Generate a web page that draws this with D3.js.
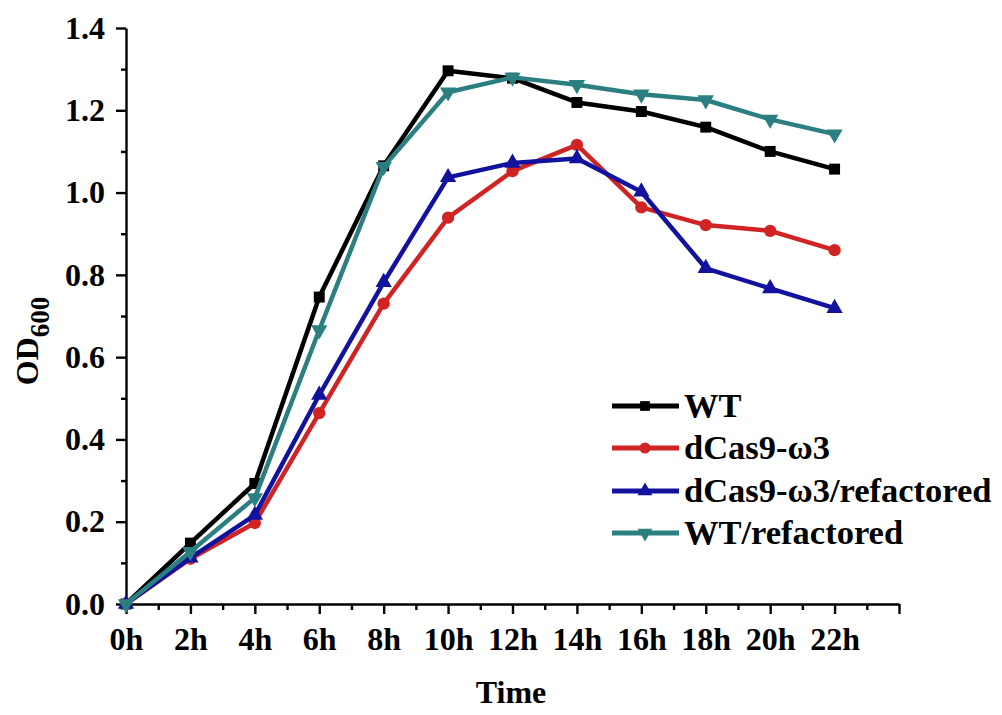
<!DOCTYPE html>
<html><head><meta charset="utf-8">
<script src="https://cdn.jsdelivr.net/npm/d3@7"></script>
<style>
body{margin:0;background:#fff;}
svg{display:block;font-family:"Liberation Serif","Times New Roman",serif;font-weight:bold;}
</style></head>
<body><svg id="chart" width="1002" height="715"></svg>
<script>
const hours = [0,2,4,6,8,10,12,14,16,18,20,22];
const wt =        [0, 0.148, 0.293, 0.746, 1.065, 1.296, 1.278, 1.219, 1.197, 1.159, 1.100, 1.057];
const dcas =      [0, 0.110, 0.197, 0.464, 0.730, 0.939, 1.052, 1.116, 0.964, 0.921, 0.907, 0.860];
const dcasRef =   [0, 0.112, 0.216, 0.508, 0.782, 1.037, 1.072, 1.083, 1.002, 0.816, 0.767, 0.719];
const wtRef =     [0, 0.127, 0.258, 0.666, 1.063, 1.244, 1.280, 1.262, 1.239, 1.225, 1.178, 1.142];
const seriesNames = ["WT","dCas9-ω3","dCas9-ω3/refactored","WT/refactored"];
const seriesColors = ["#000000","#d02424","#12129e","#2b7f80"];
const seriesMarkers = ["square","circle","triangle","triangleDown"];
const xMajorTicks = [0,2,4,6,8,10,12,14,16,18,20,22,24];
const xMinorTicks = [1,3,5,7,9,11,13,15,17,19,21,23];
const yMajorTicks = [0,0.2,0.4,0.6,0.8,1.0,1.2,1.4];
const yMinorTicks = [0.1,0.3,0.5,0.7,0.9,1.1,1.3];

const allSeries = [wt, dcas, dcasRef, wtRef];
const svg = d3.select("#chart");
const x = d3.scaleLinear().domain([0,24]).range([126,899]);
const y = d3.scaleLinear().domain([0,1.4]).range([604,28]);

// axes
svg.append("g").attr("transform","translate(0,604)")
  .call(d3.axisBottom(x).tickValues(xMajorTicks).tickSize(10).tickSizeOuter(0).tickPadding(13)
    .tickFormat(d => d <= 22 ? d + "h" : ""));
svg.append("g").attr("transform","translate(0,604)")
  .call(d3.axisBottom(x).tickValues(xMinorTicks).tickSize(6).tickSizeOuter(0).tickFormat(""))
  .select(".domain").remove();
svg.append("g").attr("transform","translate(126,0)")
  .call(d3.axisLeft(y).tickValues(yMajorTicks).tickSize(10).tickSizeOuter(0).tickPadding(11)
    .tickFormat(d3.format(".1f")));
svg.append("g").attr("transform","translate(126,0)")
  .call(d3.axisLeft(y).tickValues(yMinorTicks).tickSize(5).tickSizeOuter(0).tickFormat(""))
  .select(".domain").remove();
svg.selectAll(".domain").attr("stroke","#000").attr("stroke-width",2.4);
svg.selectAll(".tick line").attr("stroke","#000").attr("stroke-width",2.4);
svg.selectAll(".tick text").attr("fill","#000").style("font-size","32px")
  .style("font-family","'Liberation Serif','Times New Roman',serif").style("font-weight","bold");

// axis titles
svg.append("text").attr("x",511).attr("y",703).attr("text-anchor","middle")
  .style("font-size","32px").text("Time");
const yt = svg.append("text").attr("transform","translate(38,341) rotate(-90)")
  .attr("text-anchor","middle").style("font-size","32px");
yt.append("tspan").text("OD");
yt.append("tspan").attr("dy",11).style("font-size","27px").text("600");

// markers
const symbolFor = (m, s) => {
  if (m === "square") return d3.symbol().type(d3.symbolSquare).size(s || 120);
  if (m === "circle") return d3.symbol().type(d3.symbolCircle).size(s || 120);
  return d3.symbol().type(d3.symbolTriangle).size(s || 115);
};
const line = d3.line().x((d,i) => x(hours[i])).y(d => y(d));

allSeries.forEach((vals, si) => {
  const g = svg.append("g");
  g.append("path").datum(vals).attr("d", line).attr("fill","none")
    .attr("stroke", seriesColors[si]).attr("stroke-width",4.5).attr("stroke-linejoin","round");
  g.selectAll("path.m").data(vals).enter().append("path").attr("class","m")
    .attr("d", symbolFor(seriesMarkers[si])())
    .attr("transform",(d,i) => `translate(${x(hours[i])},${y(d)})` + (seriesMarkers[si]==="triangleDown" ? " rotate(180)" : ""))
    .attr("fill", seriesColors[si]);
});

// legend
const legY = [406, 448, 491, 533];
seriesNames.forEach((name, si) => {
  const g = svg.append("g").attr("transform",`translate(0,${legY[si]})`);
  g.append("line").attr("x1",612).attr("x2",679).attr("y1",0).attr("y2",0)
    .attr("stroke",seriesColors[si]).attr("stroke-width",5);
  g.append("path").attr("d", symbolFor(seriesMarkers[si], 95)())
    .attr("transform","translate(645,0)" + (seriesMarkers[si]==="triangleDown" ? " rotate(180)" : ""))
    .attr("fill",seriesColors[si]);
  g.append("text").attr("x",684).attr("y",11).style("font-size","34.5px").attr("fill","#000").text(name);
});
</script></body></html>
